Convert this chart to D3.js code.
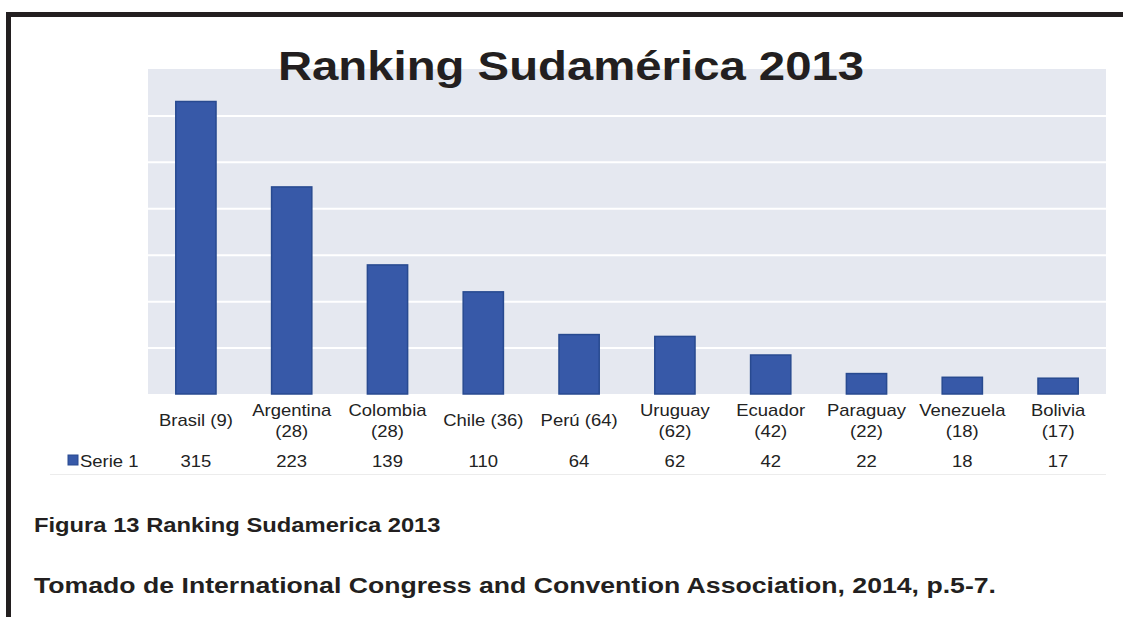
<!DOCTYPE html>
<html lang="es">
<head>
<meta charset="utf-8">
<title>Ranking Sudamérica 2013</title>
<script src="https://cdn.jsdelivr.net/npm/d3@7"></script>
<style>
  html, body { margin: 0; padding: 0; background: #ffffff; }
  svg { display: block; }
  text { font-family: "Liberation Sans", Arial, Helvetica, sans-serif; }
</style>
</head>
<body>
<div id="chart"></div>
<script>
// Countries, their world position (shown in brackets) and meetings hosted in 2013
const categories = ["Brasil", "Argentina", "Colombia", "Chile", "Perú", "Uruguay", "Ecuador", "Paraguay", "Venezuela", "Bolivia"];
const worldRank = [9, 28, 28, 36, 64, 62, 42, 22, 18, 17];
const meetings = [315, 223, 139, 110, 64, 62, 42, 22, 18, 17];
const seriesName = "Serie 1";
const yTicks = [0, 50, 100, 150, 200, 250, 300, 350];

const chartTitle = "Ranking Sudamérica 2013";
const figureCaption = "Figura 13 Ranking Sudamerica 2013";
const sourceNote = "Tomado de International Congress and Convention Association, 2014, p.5-7.";

const W = 1123, H = 617;
const SX = 1.2; // glyphs in this figure are set slightly wide

const svg = d3.select("#chart").append("svg")
  .attr("width", W).attr("height", H);

const plot = { left: 148, right: 1106, top: 69, bottom: 394 };

const x = d3.scaleBand()
  .domain(categories)
  .range([plot.left, plot.right])
  .paddingInner(0.58)
  .paddingOuter(0.29);

const y = d3.scaleLinear()
  .domain([0, d3.max(yTicks)])
  .range([plot.bottom, plot.top]);

// wide text helper: places text at (px, py) and stretches it horizontally
function wideText(sel, px, py, sx = SX) {
  return sel.attr("x", 0).attr("y", 0)
    .attr("transform", `translate(${px},${py}) scale(${sx},1)`);
}

// frame
svg.append("rect").attr("x", 6).attr("y", 12).attr("width", W - 6).attr("height", 5).attr("fill", "#231f20");
svg.append("rect").attr("x", 6).attr("y", 12).attr("width", 5).attr("height", H - 12).attr("fill", "#231f20");

// plot background
svg.append("rect")
  .attr("x", plot.left).attr("y", plot.top)
  .attr("width", plot.right - plot.left).attr("height", plot.bottom - plot.top)
  .attr("fill", "#e5e8f0");

// gridlines
svg.append("g")
  .attr("transform", `translate(${plot.left},0)`)
  .call(d3.axisLeft(y).tickValues(yTicks.slice(1, -1)).tickSize(-(plot.right - plot.left)).tickFormat(""))
  .call(g => g.select(".domain").remove())
  .call(g => g.selectAll(".tick line").attr("stroke", "#ffffff").attr("stroke-width", 2));

// baseline
svg.append("line")
  .attr("x1", plot.left).attr("x2", plot.right)
  .attr("y1", y(0) + 1).attr("y2", y(0) + 1)
  .attr("stroke", "#ffffff").attr("stroke-width", 2);

// bars
svg.append("g").selectAll("rect")
  .data(categories.map((c, i) => ({ c, v: meetings[i] })))
  .join("rect")
  .attr("x", d => x(d.c))
  .attr("y", d => y(d.v))
  .attr("width", x.bandwidth())
  .attr("height", d => y(0) - y(d.v))
  .attr("fill", "#3759a8")
  .attr("stroke", "#284a90")
  .attr("stroke-width", 1.5);

// title
wideText(svg.append("text"), (plot.left + plot.right) / 2 - 56, 80, 1.14)
  .attr("text-anchor", "middle")
  .attr("font-size", 41.5)
  .attr("font-weight", "bold")
  .attr("fill", "#231f20")
  .text(chartTitle);

// data table: category labels (wrapped when wider than a band)
const labelSize = 15.8;
const LSX = 1.17;
const labels = svg.append("g");
categories.forEach((c, i) => {
  const full = `${c} (${worldRank[i]})`;
  const cx = x(c) + x.bandwidth() / 2;
  const t = wideText(labels.append("text"), cx, 0, LSX)
    .attr("text-anchor", "middle")
    .attr("font-size", labelSize)
    .attr("fill", "#222")
    .text(full);
  const w = t.node().getComputedTextLength() * LSX;
  if (w > x.step() - 6) {
    t.text(null);
    t.append("tspan").attr("x", 0).attr("y", 0).text(c);
    t.append("tspan").attr("x", 0).attr("y", 21).text(`(${worldRank[i]})`);
    t.attr("transform", `translate(${cx},416) scale(${LSX},1)`);
  } else {
    t.attr("transform", `translate(${cx},426) scale(${LSX},1)`);
  }
});

// data table: series row
svg.append("rect")
  .attr("x", 68).attr("y", 455).attr("width", 10).attr("height", 10)
  .attr("fill", "#3759a8").attr("stroke", "#284a90").attr("stroke-width", 1);
wideText(svg.append("text"), 80, 467, LSX)
  .attr("font-size", labelSize).attr("fill", "#222").text(seriesName);

svg.append("g").selectAll("text")
  .data(categories.map((c, i) => ({ c, v: meetings[i] })))
  .join("text")
  .attr("x", 0).attr("y", 0)
  .attr("transform", d => `translate(${x(d.c) + x.bandwidth() / 2},467) scale(${LSX},1)`)
  .attr("text-anchor", "middle")
  .attr("font-size", labelSize)
  .attr("fill", "#222")
  .text(d => d.v);

// table bottom rule
svg.append("line")
  .attr("x1", 50).attr("x2", plot.right)
  .attr("y1", 474.5).attr("y2", 474.5)
  .attr("stroke", "#ececec").attr("stroke-width", 1);

// caption and source
wideText(svg.append("text"), 34, 532)
  .attr("font-size", 19.8).attr("font-weight", "bold").attr("fill", "#231f20")
  .text(figureCaption);
wideText(svg.append("text"), 34, 593)
  .attr("font-size", 22.2).attr("font-weight", "bold").attr("fill", "#231f20")
  .text(sourceNote);
</script>
</body>
</html>
